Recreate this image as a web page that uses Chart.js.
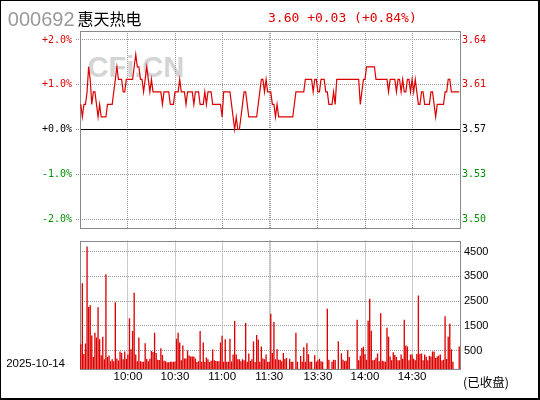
<!DOCTYPE html>
<html>
<head>
<meta charset="utf-8">
<script src="https://cdn.jsdelivr.net/npm/chart.js@4/dist/chart.umd.min.js"></script>
<style>
  body { margin: 0; background: #fff; }
  #frame { position: absolute; left: 0; top: 0; width: 540px; height: 400px; box-sizing: border-box;
           border: 1px solid #000; border-right-width: 2px; border-bottom-width: 2px; }
  .txt { position: absolute; white-space: nowrap; line-height: 1; }
  canvas { position: absolute; left: 0; }
  #watermark { left: 87.6px; top: 50.5px; font: bold 29px "Liberation Sans", Arial, sans-serif; color: #d4d4d4; }
  #code { left: 7.8px; top: 7.9px; font: 20px "Liberation Sans", Arial, sans-serif; color: #999; }
  #name { left: 77.5px; top: 5.8px; font: 16px "Noto Sans CJK SC", sans-serif; color: #000; }
  #quote { left: 268px; top: 9.7px; font: 13px "DejaVu Sans Mono", monospace; color: #dd0000; }
  #date { left: 6.2px; top: 357px; font: 11.5px "Liberation Sans", Arial, sans-serif; color: #000; }
  #status { left: 463px; top: 371.5px; font: 12.5px "Noto Sans CJK SC", sans-serif; color: #000; }
</style>
</head>
<body>
<div id="frame"></div>
<div class="txt" id="watermark">CFi.CN</div>
<canvas id="priceChart" width="540" height="240" style="top:0"></canvas>
<canvas id="volChart" width="540" height="170" style="top:230px"></canvas>
<div class="txt" id="code"></div>
<div class="txt" id="name"></div>
<div class="txt" id="quote"></div>
<div class="txt" id="date"></div>
<div class="txt" id="status">(已收盘)</div>

<script>
const stockCode = '000692';
const stockName = '惠天热电';
const tradeDate = '2025-10-14';
const prevClose = 3.57;
const lastPrice = 3.60;

// trading sessions, one point per minute
const sessions = [['09:30', '11:30'], ['13:00', '15:00']];
const gridTimes = ['10:00', '10:30', '11:00', '11:30', '13:00', '13:30', '14:00', '14:30'];
const timeLabels = ['10:00', '10:30', '11:00', '11:30', '13:30', '14:00', '14:30'];

const pctTicks = [-2, -1, 0, 1, 2];
const pctRange = 2.2;
const volTicks = [500, 1500, 2500, 3500, 4500];
const volMin = -250;
const volMax = 4950;

const prices = [
  3.59,3.58,3.59,3.59,3.60,3.62,3.61,3.59,3.60,3.60,3.59,3.58,3.59,3.58,3.58,3.58,3.58,3.59,3.59,3.59,
  3.59,3.60,3.61,3.62,3.61,3.61,3.61,3.60,3.60,3.61,3.61,3.61,3.61,3.61,3.62,3.63,3.62,3.62,3.61,3.61,
  3.60,3.61,3.62,3.61,3.60,3.61,3.60,3.60,3.60,3.60,3.60,3.60,3.59,3.60,3.60,3.60,3.60,3.59,3.59,3.59,
  3.60,3.60,3.60,3.61,3.60,3.60,3.60,3.59,3.60,3.60,3.60,3.60,3.59,3.60,3.60,3.60,3.59,3.59,3.59,3.60,
  3.59,3.60,3.60,3.60,3.59,3.59,3.59,3.59,3.59,3.59,3.58,3.60,3.60,3.60,3.60,3.60,3.59,3.58,3.57,3.58,
  3.57,3.57,3.58,3.59,3.60,3.60,3.59,3.58,3.58,3.58,3.58,3.58,3.58,3.59,3.60,3.61,3.61,3.60,3.61,3.60,
  3.60,3.60,3.59,3.59,3.58,3.59,3.58,3.58,3.58,3.58,3.58,3.58,3.58,3.58,3.58,3.58,3.59,3.60,3.60,3.60,
  3.60,3.60,3.60,3.61,3.61,3.61,3.61,3.61,3.60,3.61,3.61,3.60,3.60,3.61,3.61,3.61,3.60,3.60,3.59,3.59,
  3.59,3.60,3.59,3.61,3.61,3.61,3.61,3.61,3.61,3.61,3.61,3.61,3.61,3.61,3.61,3.61,3.61,3.61,3.59,3.60,
  3.61,3.61,3.62,3.62,3.62,3.62,3.62,3.62,3.61,3.61,3.61,3.61,3.61,3.61,3.61,3.61,3.60,3.61,3.61,3.61,
  3.61,3.60,3.61,3.61,3.60,3.61,3.60,3.60,3.61,3.61,3.60,3.61,3.60,3.61,3.60,3.59,3.59,3.60,3.60,3.59,
  3.59,3.59,3.59,3.60,3.60,3.59,3.58,3.59,3.59,3.59,3.59,3.59,3.60,3.60,3.61,3.61,3.60,3.60,3.60,3.60,3.60,3.60
];

const volumes = [
  750,3220,360,780,4710,2260,2330,1110,240,1220,1030,2250,950,310,1060,140,3590,240,300,60,
  140,60,2450,180,90,460,400,140,460,170,340,1810,550,1290,2840,340,60,1030,60,40,
  40,790,150,60,170,480,440,1220,400,120,110,590,320,80,60,20,20,40,40,40,
  50,980,1220,820,100,700,180,180,500,300,260,260,260,180,30,60,1290,40,820,30,
  220,140,30,80,540,100,70,60,60,820,1100,40,950,40,40,980,50,340,1690,340,
  140,140,60,140,100,1610,40,380,70,140,860,30,1130,940,40,660,180,140,340,40,
  40,1990,400,1650,140,550,120,120,60,400,160,200,null,170,40,40,null,1220,40,null,
  280,40,630,40,790,350,40,40,null,310,40,100,170,60,40,null,null,2190,120,null,
  40,120,110,null,870,null,390,120,60,80,510,240,null,null,null,null,1740,100,290,600,
  650,350,120,1700,2600,1300,100,120,210,380,60,2010,80,60,40,1420,1060,260,100,430,
  320,240,100,100,340,170,1740,700,660,100,340,340,170,100,360,2730,360,380,100,340,
  250,100,290,260,460,460,200,260,300,340,90,120,1890,150,1060,1580,550,40,null,null,null,660
];

const red = '#dd0000';
const green = '#009000';
const gridGray = '#999999';
const frameGray = '#888888';
const monoFont = { family: 'DejaVu Sans Mono', size: 10 };
const sansFont = { family: 'Liberation Sans', size: 11.5 };

const toMin = t => { const [h, m] = t.split(':').map(Number); return h * 60 + m; };
const fmt = m => String(Math.floor(m / 60)).padStart(2, '0') + ':' + String(m % 60).padStart(2, '0');
const times = [];
sessions.forEach(([a, b]) => {
  for (let m = toMin(a); m <= toMin(b); m++) times.push(fmt(m));
});

const change = lastPrice - prevClose;
const sign = v => (v >= 0 ? '+' : '');
document.getElementById('code').textContent = stockCode;
document.getElementById('name').textContent = stockName;
document.getElementById('date').textContent = tradeDate;
document.getElementById('quote').textContent =
  `${lastPrice.toFixed(2)} ${sign(change)}${change.toFixed(2)} (${sign(change)}${(change / prevClose * 100).toFixed(2)}%)`;

const signColor = d => (d > 1e-6 ? red : d < -1e-6 ? green : '#000');
const xGridColor = c => (gridTimes.includes(times[c.index]) ? gridGray : 'transparent');

// plot frame around each panel
const boxPlugin = {
  id: 'box',
  beforeDatasetsDraw(chart) {
    const { ctx, chartArea: a } = chart;
    ctx.save();
    ctx.strokeStyle = frameGray;
    ctx.lineWidth = 1;
    ctx.strokeRect(Math.round(a.left) + 0.5, Math.round(a.top) + 0.5,
      Math.round(a.right - a.left), Math.round(a.bottom - a.top));
    ctx.restore();
  }
};

const common = {
  responsive: false,
  animation: false,
  devicePixelRatio: 1,
  plugins: { legend: { display: false }, tooltip: { enabled: false } }
};

new Chart(document.getElementById('priceChart'), {
  type: 'line',
  data: {
    labels: times,
    datasets: [{
      data: prices.map(p => (p / prevClose - 1) * 100),
      yAxisID: 'y',
      borderColor: red,
      borderWidth: 1.2,
      pointRadius: 0,
      tension: 0
    }]
  },
  options: {
    ...common,
    layout: { padding: { top: 31, bottom: 12, left: 0, right: 0 } },
    scales: {
      x: {
        offset: true,
        grid: { offset: false, color: xGridColor, drawTicks: false },
        border: { display: false, dash: [1, 1] },
        ticks: { display: false },
        afterFit: s => { s.height = 0; }
      },
      y: {
        position: 'left',
        min: -pctRange,
        max: pctRange,
        afterBuildTicks: s => { s.ticks = pctTicks.map(v => ({ value: v })); },
        grid: {
          color: c => (c.tick.value === 0 ? 'transparent' : gridGray),
          tickColor: gridGray,
          tickLength: 4,
          tickBorderDash: [1, 1]
        },
        border: { display: false, dash: [1, 1] },
        ticks: {
          padding: 4,
          font: monoFont,
          color: c => signColor(c.tick.value),
          callback: v => sign(v) + v.toFixed(1) + '%'
        },
        afterFit: s => { s.width = 80; }
      },
      y2: {
        position: 'right',
        min: prevClose * (1 - pctRange / 100),
        max: prevClose * (1 + pctRange / 100),
        afterBuildTicks: s => { s.ticks = pctTicks.map(k => ({ value: prevClose * (1 + k / 100) })); },
        grid: {
          color: c => (Math.abs(c.tick.value - prevClose) < 1e-6 ? '#000' : 'transparent'),
          drawTicks: false
        },
        border: { display: false },
        ticks: {
          padding: 2,
          font: monoFont,
          color: c => signColor(c.tick.value - prevClose),
          callback: v => v.toFixed(2)
        },
        afterFit: s => { s.width = 80; }
      }
    }
  },
  plugins: [boxPlugin]
});

new Chart(document.getElementById('volChart'), {
  type: 'bar',
  data: {
    labels: times,
    datasets: [{
      data: volumes,
      base: volMin,
      backgroundColor: red,
      barPercentage: 1,
      categoryPercentage: 0.85
    }]
  },
  options: {
    ...common,
    layout: { padding: { top: 8, bottom: 0, left: 80, right: 0 } },
    scales: {
      x: {
        offset: true,
        grid: { offset: false, color: xGridColor, drawTicks: false },
        border: { display: false, dash: [1, 1] },
        ticks: {
          autoSkip: false,
          maxRotation: 0,
          minRotation: 0,
          padding: 1,
          font: sansFont,
          color: '#000',
          callback: (v, i) => (timeLabels.includes(times[i]) ? times[i] : '')
        },
        afterFit: s => { s.height = 31; }
      },
      y: {
        position: 'right',
        min: volMin,
        max: volMax,
        afterBuildTicks: s => { s.ticks = volTicks.map(v => ({ value: v })); },
        grid: { color: gridGray, drawTicks: false },
        border: { display: false, dash: [1, 1] },
        ticks: {
          padding: 4,
          font: { family: 'Liberation Sans', size: 11 },
          color: '#000',
          callback: v => String(v)
        },
        afterFit: s => { s.width = 80; }
      }
    }
  },
  plugins: [boxPlugin]
});
</script>
</body>
</html>
